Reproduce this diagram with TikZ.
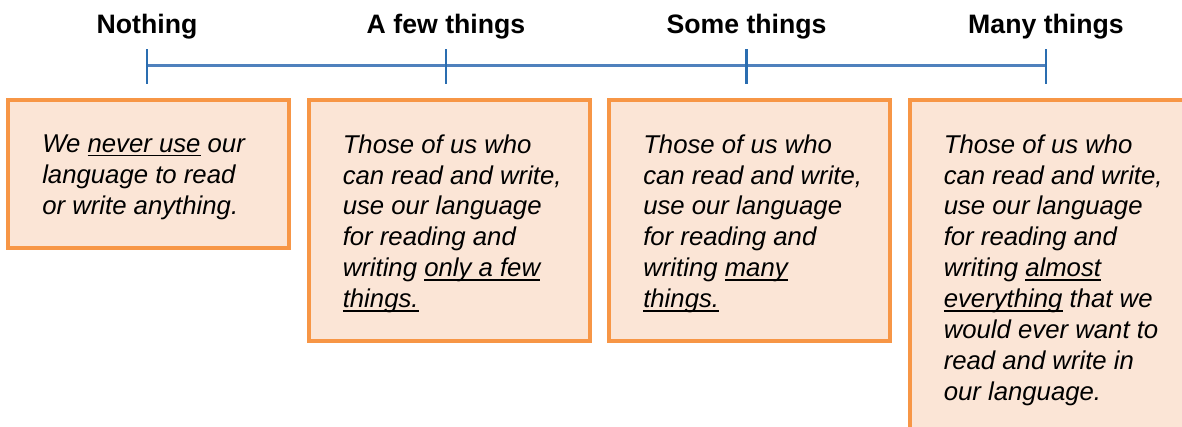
\documentclass[tikz,border=0pt]{standalone}
\usepackage{fontspec}
\setmainfont{Liberation Sans}
\newcommand{\souligne}[1]{\setbox0=\hbox{#1}\rlap{\rule[-3pt]{\wd0}{1.1pt}}\box0\relax}
\definecolor{orangeboite}{HTML}{F79646}
\definecolor{fondboite}{HTML}{FBE5D6}
\definecolor{bleuaxe}{HTML}{4F81BD}
\definecolor{bleugrad}{HTML}{2A6DB0}
\begin{document}
\begin{tikzpicture}[x=0.75pt,y=-0.75pt]
  \tikzstyle{titre}=[font=\fontsize{20}{24}\selectfont\bfseries, anchor=base,
  inner sep=0pt]
  \tikzstyle{boite}=[draw=orangeboite, fill=fondboite, line width=3pt,
  minimum width=210.75pt, anchor=north west, inner sep=0pt, outer sep=0pt]
  \tikzstyle{texte}=[font=\fontsize{19.3}{23.2}\selectfont\itshape, align=left,
  anchor=north west, inner sep=0pt, xshift=25.5pt, yshift=-26pt]
  \tikzstyle{axe}=[line width=2.6pt, draw=bleuaxe]
  \tikzstyle{graduation}=[line width=2pt, draw=bleugrad]
  \useasboundingbox (0,0) rectangle (1182,426);
  \clip (0,0) rectangle (1182,426);
  % axe
  \foreach \n/\x in {g1/147,g2/446,g3/746.5,g4/1046} {
    \coordinate (\n) at (\x,65.3);
  }
  \draw[axe] (g1) -- (g2) -- (g3) -- (g4);
  \foreach \n in {g1,g2,g3,g4} {
    \draw[graduation] (\n) ++(0,-16) -- ++(0,35);
  }
  % titres
  \foreach \n/\x/\t in {t1/147/Nothing,t2/446/A few things,
    t3/746.5/Some things,t4/1046/Many things} {
    \node[titre] (\n) at (\x,33.5) {\t};
  }
  % boites
  \foreach \n/\x/\h in {b1/8/111.4pt,b2/308.5/180.75pt,b3/609/180.75pt,
    b4/909.5/247.1pt} {
    \node[boite, minimum height=\h] (\n) at (\x,99.5) {};
  }
  % textes
  \node[texte] (x1) at (b1.north west) {We \souligne{never use} our\\language to
    read\\or write anything.};
  \node[texte] (x2) at (b2.north west) {Those of us who\\can read and write,\\use
    our language\\for reading and\\writing \souligne{only a
      few}\\\souligne{things.}};
  \node[texte] (x3) at (b3.north west) {Those of us who\\can read and write,\\use
    our language\\for reading and\\writing \souligne{many}\\\souligne{things.}};
  \node[texte] (x4) at (b4.north west) {Those of us who\\can read and write,\\use
    our language\\for reading and\\writing \souligne{almost}\\\souligne{everything}
    that we\\would ever want to\\read and write in\\our language.};
\end{tikzpicture}
\end{document}
